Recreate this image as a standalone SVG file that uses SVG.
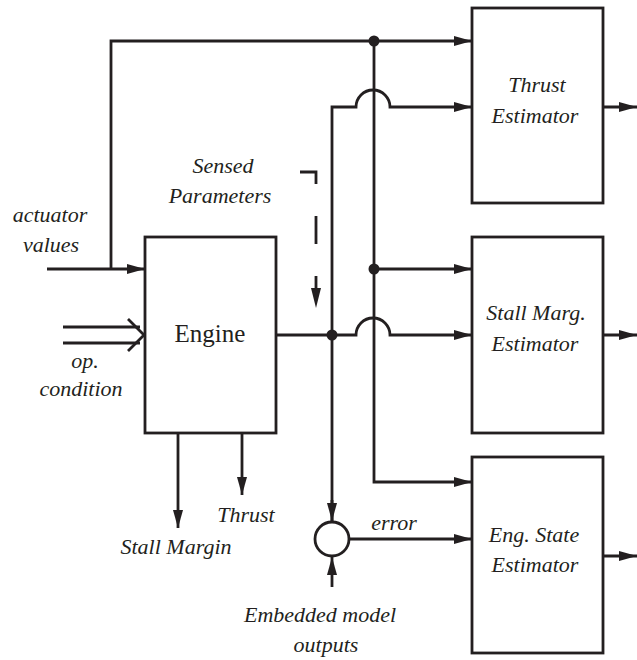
<svg xmlns="http://www.w3.org/2000/svg" width="637" height="660" viewBox="0 0 637 660">
<defs>
<style>
.box{fill:#fff;stroke:#231f20;stroke-width:2.8}
.ln{fill:none;stroke:#231f20;stroke-width:2.8}
.lbl{font-family:"Liberation Serif","Times New Roman",serif;font-style:italic;font-size:22px;fill:#231f20;text-anchor:middle}
.ttl{font-family:"Liberation Serif","Times New Roman",serif;font-size:25px;fill:#231f20;text-anchor:middle}
.dot{fill:#231f20}
</style>
<marker id="ah" viewBox="0 0 18 10" refX="18" refY="5" markerWidth="18" markerHeight="10" markerUnits="userSpaceOnUse" orient="auto">
<path d="M0,0 L18,5 L0,10 z" fill="#231f20"/>
</marker>
</defs>
<rect width="637" height="660" fill="#fff"/>

<g id="connectors">
<!-- actuator values -->
<path class="ln" d="M47,269 H145" marker-end="url(#ah)"/>
<path class="ln" d="M111,269 V41 H472" marker-end="url(#ah)"/>
<!-- op condition double arrow -->
<path class="ln" d="M63,327 H140 M63,343 H140"/>
<path class="ln" d="M128,319 L144,335 L128,351"/>
<!-- vertical bus from top line -->
<path class="ln" d="M374,41 V482 H472" marker-end="url(#ah)"/>
<path class="ln" d="M374,269 H472" marker-end="url(#ah)"/>
<!-- sensed parameters line to thrust estimator with hop -->
<path class="ln" d="M332,521 V107 H356 A17,17 0 0 1 390,107 H472" marker-end="url(#ah)"/>
<path class="ln" d="M332,500 V521" marker-end="url(#ah)"/>
<!-- engine output with hop -->
<path class="ln" d="M276,335 H356 A17,17 0 0 1 390,335 H472" marker-end="url(#ah)"/>
<!-- dashed sensed arrow -->
<path class="ln" d="M300,172 H316 V290" stroke-dasharray="28 32"/>
<path d="M311,288 L321,288 L316,308 z" fill="#231f20"/>
<!-- engine outputs -->
<path class="ln" d="M178,433 V528" marker-end="url(#ah)"/>
<path class="ln" d="M242,433 V495" marker-end="url(#ah)"/>
<!-- embedded model input -->
<path class="ln" d="M332,587 V557" marker-end="url(#ah)"/>
<!-- error -->
<path class="ln" d="M349,539 H472" marker-end="url(#ah)"/>
<!-- estimator outputs -->
<path class="ln" d="M603,107 H637" marker-end="url(#ah)"/>
<path class="ln" d="M603,335 H637" marker-end="url(#ah)"/>
<path class="ln" d="M603,556 H637" marker-end="url(#ah)"/>
<!-- junction dots -->
<circle class="dot" cx="374" cy="41" r="5.5"/>
<circle class="dot" cx="374" cy="269" r="5.5"/>
<circle class="dot" cx="332" cy="335" r="5.5"/>
</g>

<g id="engine">
<rect class="box" x="145" y="237" width="131" height="196"/>
<text class="ttl" x="210" y="342">Engine</text>
</g>

<g id="thrust-estimator">
<rect class="box" x="472" y="8" width="131" height="195"/>
<text class="lbl" x="537" y="92">Thrust</text>
<text class="lbl" x="535" y="123">Estimator</text>
</g>

<g id="stall-estimator">
<rect class="box" x="472" y="237" width="131" height="196"/>
<text class="lbl" x="536" y="320">Stall Marg.</text>
<text class="lbl" x="535" y="351">Estimator</text>
</g>

<g id="state-estimator">
<rect class="box" x="472" y="457" width="131" height="196"/>
<text class="lbl" x="534" y="542">Eng. State</text>
<text class="lbl" x="535" y="572">Estimator</text>
</g>

<g id="summer">
<circle class="ln" cx="332" cy="539" r="17" fill="#fff"/>
</g>

<g id="labels">
<text class="lbl" x="50" y="222">actuator</text>
<text class="lbl" x="51" y="252">values</text>
<text class="lbl" x="223" y="173">Sensed</text>
<text class="lbl" x="220" y="203">Parameters</text>
<text class="lbl" x="85" y="368">op.</text>
<text class="lbl" x="81" y="396">condition</text>
<text class="lbl" x="246" y="522">Thrust</text>
<text class="lbl" x="176" y="554">Stall Margin</text>
<text class="lbl" x="394" y="530">error</text>
<text class="lbl" x="320" y="622">Embedded model</text>
<text class="lbl" x="326" y="652">outputs</text>
</g>
</svg>
